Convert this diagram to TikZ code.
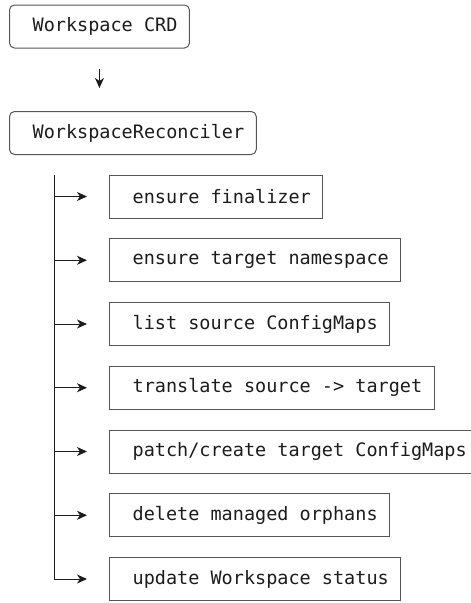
\documentclass[tikz,border=0pt]{standalone}
\usepackage{fontspec}
\usepackage{tikz}
\usetikzlibrary{arrows.meta, positioning}
\newfontfamily\recfont{DejaVu Sans Mono}
\definecolor{inkdark}{HTML}{1C1C1C}
\definecolor{edgegray}{HTML}{555555}
\tikzset{
  crdbox/.style={draw=edgegray, rounded corners=5pt, line width=1pt, anchor=west,
                 font=\recfont\fontsize{18.5}{22}\selectfont, text=inkdark,
                 minimum height=43pt, inner xsep=12pt, execute at begin node={\ }},
  stepbox/.style={crdbox, sharp corners},
  flow/.style={-{Stealth[length=10pt, width=9pt, inset=3pt]}, line width=1pt, color=inkdark},
}

\begin{document}
\begin{tikzpicture}[x=1pt, y=-1pt]
  \useasboundingbox (0,0) rectangle (471,603);

  % CRD feeding the reconciler
  \node[crdbox] (crd) at (9,26.5) {Workspace CRD};
  \node[crdbox] (rec) at (9,133) {WorkspaceReconciler};
  \draw[flow, shorten <=20pt, shorten >=23pt] (crd.south) -- (crd.south |- rec.north);

  % reconcile steps, in order
  \foreach \lbl [count=\i] in {ensure finalizer, ensure target namespace,
      list source ConfigMaps, translate source -> target,
      patch/create target ConfigMaps, delete managed orphans,
      update Workspace status}
    \node[stepbox] (s\i) at (109,{196.5+63.75*(\i-1)}) {\lbl};

  \coordinate (spine) at ([xshift=-55pt]s1.north west);
  \foreach \i in {1,...,6}
    \draw[flow, shorten >=22pt] (spine |- s\i.west) -- (s\i.west);
  \draw[flow, shorten >=22pt] (spine) |- (s7.west);
\end{tikzpicture}
\end{document}
